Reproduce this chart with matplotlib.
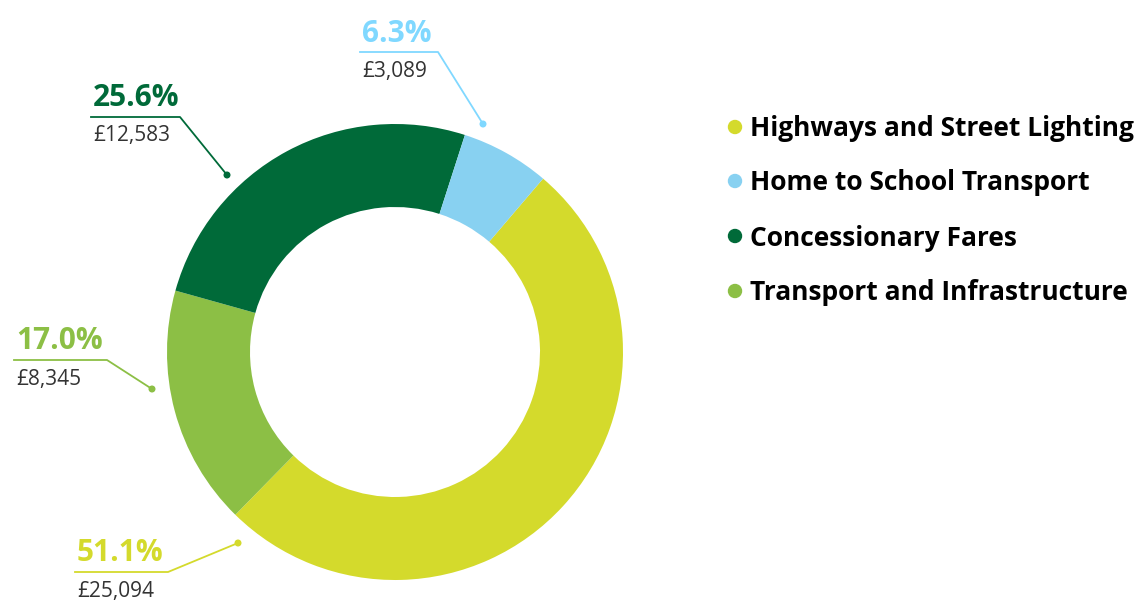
import matplotlib.pyplot as plt
from matplotlib.patches import Circle

# data (legend order)
categories = ['Highways and Street Lighting', 'Home to School Transport',
              'Concessionary Fares', 'Transport and Infrastructure']
amounts = [25094, 3089, 12583, 8345]
pct_labels = ['51.1%', '6.3%', '25.6%', '17.0%']
value_labels = ['£25,094', '£3,089', '£12,583', '£8,345']
colors = ['#D4DA2C', '#88D1F1', '#006A39', '#8CBF45']
label_colors = ['#D4DA2C', '#80D8FF', '#006A39', '#8CBF45']
# clockwise order of wedges in the donut
pie_order = [0, 3, 2, 1]

H = 601
plt.rcParams['font.family'] = ['Open Sans', 'DejaVu Sans']

fig = plt.figure(figsize=(11.44, 6.01), dpi=100)
ax = fig.add_axes([0, 0, 1, 1])
ax.set_xlim(0, 1144)
ax.set_ylim(0, H)
ax.set_aspect('equal')
ax.axis('off')

# donut, clockwise, starting ~41 deg right of top
ax.pie([amounts[i] for i in pie_order], colors=[colors[i] for i in pie_order],
       center=(395, H - 352), radius=228,
       startangle=49.5, counterclock=False,
       wedgeprops=dict(width=83, edgecolor='none'))
ax.set_xlim(0, 1144)
ax.set_ylim(0, H)

# label layout (pixel coords, y from top): text x, pct y, line y, line end x, dot
layout = [
    (77, 553, 572, 168, (238, 543)),
    (362, 34, 52, 438, (483, 124)),
    (93, 98, 117, 180, (227, 175)),
    (16, 341, 360, 107, (152, 389)),
]
for i, (tx, py, ly, lx, dot) in enumerate(layout):
    c = label_colors[i]
    ax.text(tx, H - py, pct_labels[i], color=c, fontsize=21.5, fontweight='bold',
            ha='left', va='center')
    ax.text(tx, H - (ly + 19), value_labels[i], color='#333333', fontsize=15,
            ha='left', va='center')
    ax.plot([tx - 2, lx, dot[0]], [H - ly, H - ly, H - dot[1]], color=c, lw=1.3)
    ax.add_patch(Circle((dot[0], H - dot[1]), 2.8, color=c))

# legend
leg_y = [127, 181, 236, 291]
for i, name in enumerate(categories):
    ax.add_patch(Circle((735, H - leg_y[i]), 6.5, color=colors[i]))
    ax.text(750, H - leg_y[i] - 2, name, color='black', fontsize=19,
            fontweight='bold', ha='left', va='center')

fig.savefig('out.png', dpi=100)
